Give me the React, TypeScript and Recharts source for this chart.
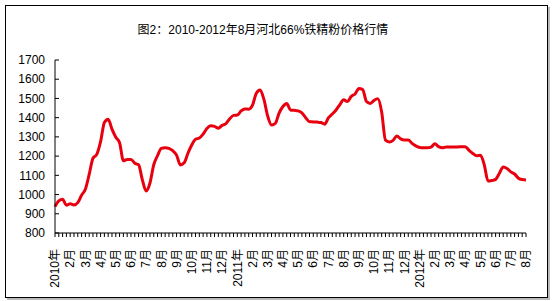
import { LineChart, Line, XAxis, YAxis } from 'recharts';

const title = '图2：2010-2012年8月河北66%铁精粉价格行情';

// one label per month, every 4th weekly point
const monthLabels = [
  '2010年', '2月', '3月', '4月', '5月', '6月', '7月', '8月', '9月', '10月', '11月', '12月',
  '2011年', '2月', '3月', '4月', '5月', '6月', '7月', '8月', '9月', '10月', '11月', '12月',
  '2012年', '2月', '3月', '4月', '5月', '6月', '7月', '8月',
];

// weekly price, yuan/ton
const prices = [
  937, 967, 975, 945, 952, 946, 958, 997, 1028, 1105, 1189, 1209, 1275, 1375, 1392, 1340,
  1298, 1270, 1176, 1183, 1183, 1163, 1155, 1076, 1018, 1060, 1155, 1203, 1240, 1244, 1240, 1228,
  1205, 1154, 1165, 1215, 1258, 1288, 1294, 1315, 1344, 1358, 1355, 1345, 1360, 1369, 1394, 1412,
  1414, 1435, 1445, 1444, 1465, 1527, 1544, 1495, 1408, 1362, 1370, 1424, 1458, 1474, 1440, 1438,
  1435, 1425, 1400, 1379, 1378, 1377, 1375, 1366, 1400, 1419, 1440, 1468, 1493, 1484, 1511, 1523,
  1552, 1546, 1484, 1474, 1490, 1498, 1430, 1283, 1274, 1282, 1305, 1290, 1284, 1284, 1266, 1253,
  1245, 1244, 1244, 1247, 1264, 1249, 1243, 1248, 1248, 1248, 1248, 1249, 1249, 1230, 1214, 1202,
  1204, 1156, 1070, 1073, 1079, 1111, 1144, 1136, 1118, 1107, 1085, 1078, 1076,
];

const yTicks = [800, 900, 1000, 1100, 1200, 1300, 1400, 1500, 1600, 1700];

const data = prices.map((price, i) => ({ i, price }));

const font = '"Liberation Sans", Arial, "Noto Sans CJK SC", sans-serif';

function MonthTick(props: any) {
  const { x, y, payload } = props;
  const i = payload.value as number;
  if (i % 4 !== 0) return null;
  const label = monthLabels[i / 4];
  return (
    <text
      x={0}
      y={0}
      transform={`translate(${x},${y + 10}) rotate(-90)`}
      textAnchor="end"
      dy="0.35em"
      fontSize={12}
      fontFamily={font}
      fill="#000"
    >
      {label}
    </text>
  );
}

export default function App() {
  return (
    <div style={{ position: 'absolute', left: 0, top: 0, width: 553, height: 301, background: '#fff' }}>
      <div
        style={{
          position: 'absolute', left: 5, top: 5, width: 541, height: 291,
          border: '1px solid #000', boxShadow: '2px 2px 0 #bbb',
        }}
      />
      <div
        style={{
          position: 'absolute', left: 137, top: 20, width: 252, textAlign: 'center',
          fontSize: 12, fontFamily: font, color: '#000', whiteSpace: 'nowrap',
        }}
      >
        {title}
      </div>
      <div style={{ position: 'absolute', left: 0, top: 0 }}>
        <LineChart width={553} height={301} data={data} margin={{ top: 60, right: 27, bottom: 8, left: 0 }}>
          <XAxis
            dataKey="i"
            interval={0}
            tickSize={4}
            tickLine={{ stroke: '#000' }}
            axisLine={{ stroke: '#000' }}
            tick={<MonthTick />}
            height={60}
          />
          <XAxis xAxisId="top" dataKey="i" orientation="top" height={0} tick={false} tickLine={false} axisLine={{ stroke: '#888' }} />
          <YAxis
            domain={[800, 1700]}
            ticks={yTicks}
            interval={0}
            width={55}
            tickSize={-4}
            tickMargin={14}
            tickLine={{ stroke: '#000' }}
            axisLine={{ stroke: '#000' }}
            tick={{ fill: '#000', fontSize: 12, fontFamily: font }}
          />
          <YAxis yAxisId="right" orientation="right" width={0} domain={[800, 1700]} tick={false} tickLine={false} axisLine={{ stroke: '#888' }} />
          <Line
            type="monotone"
            dataKey="price"
            stroke="#e8000f"
            strokeWidth={3}
            dot={false}
            isAnimationActive={false}
          />
        </LineChart>
      </div>
    </div>
  );
}
